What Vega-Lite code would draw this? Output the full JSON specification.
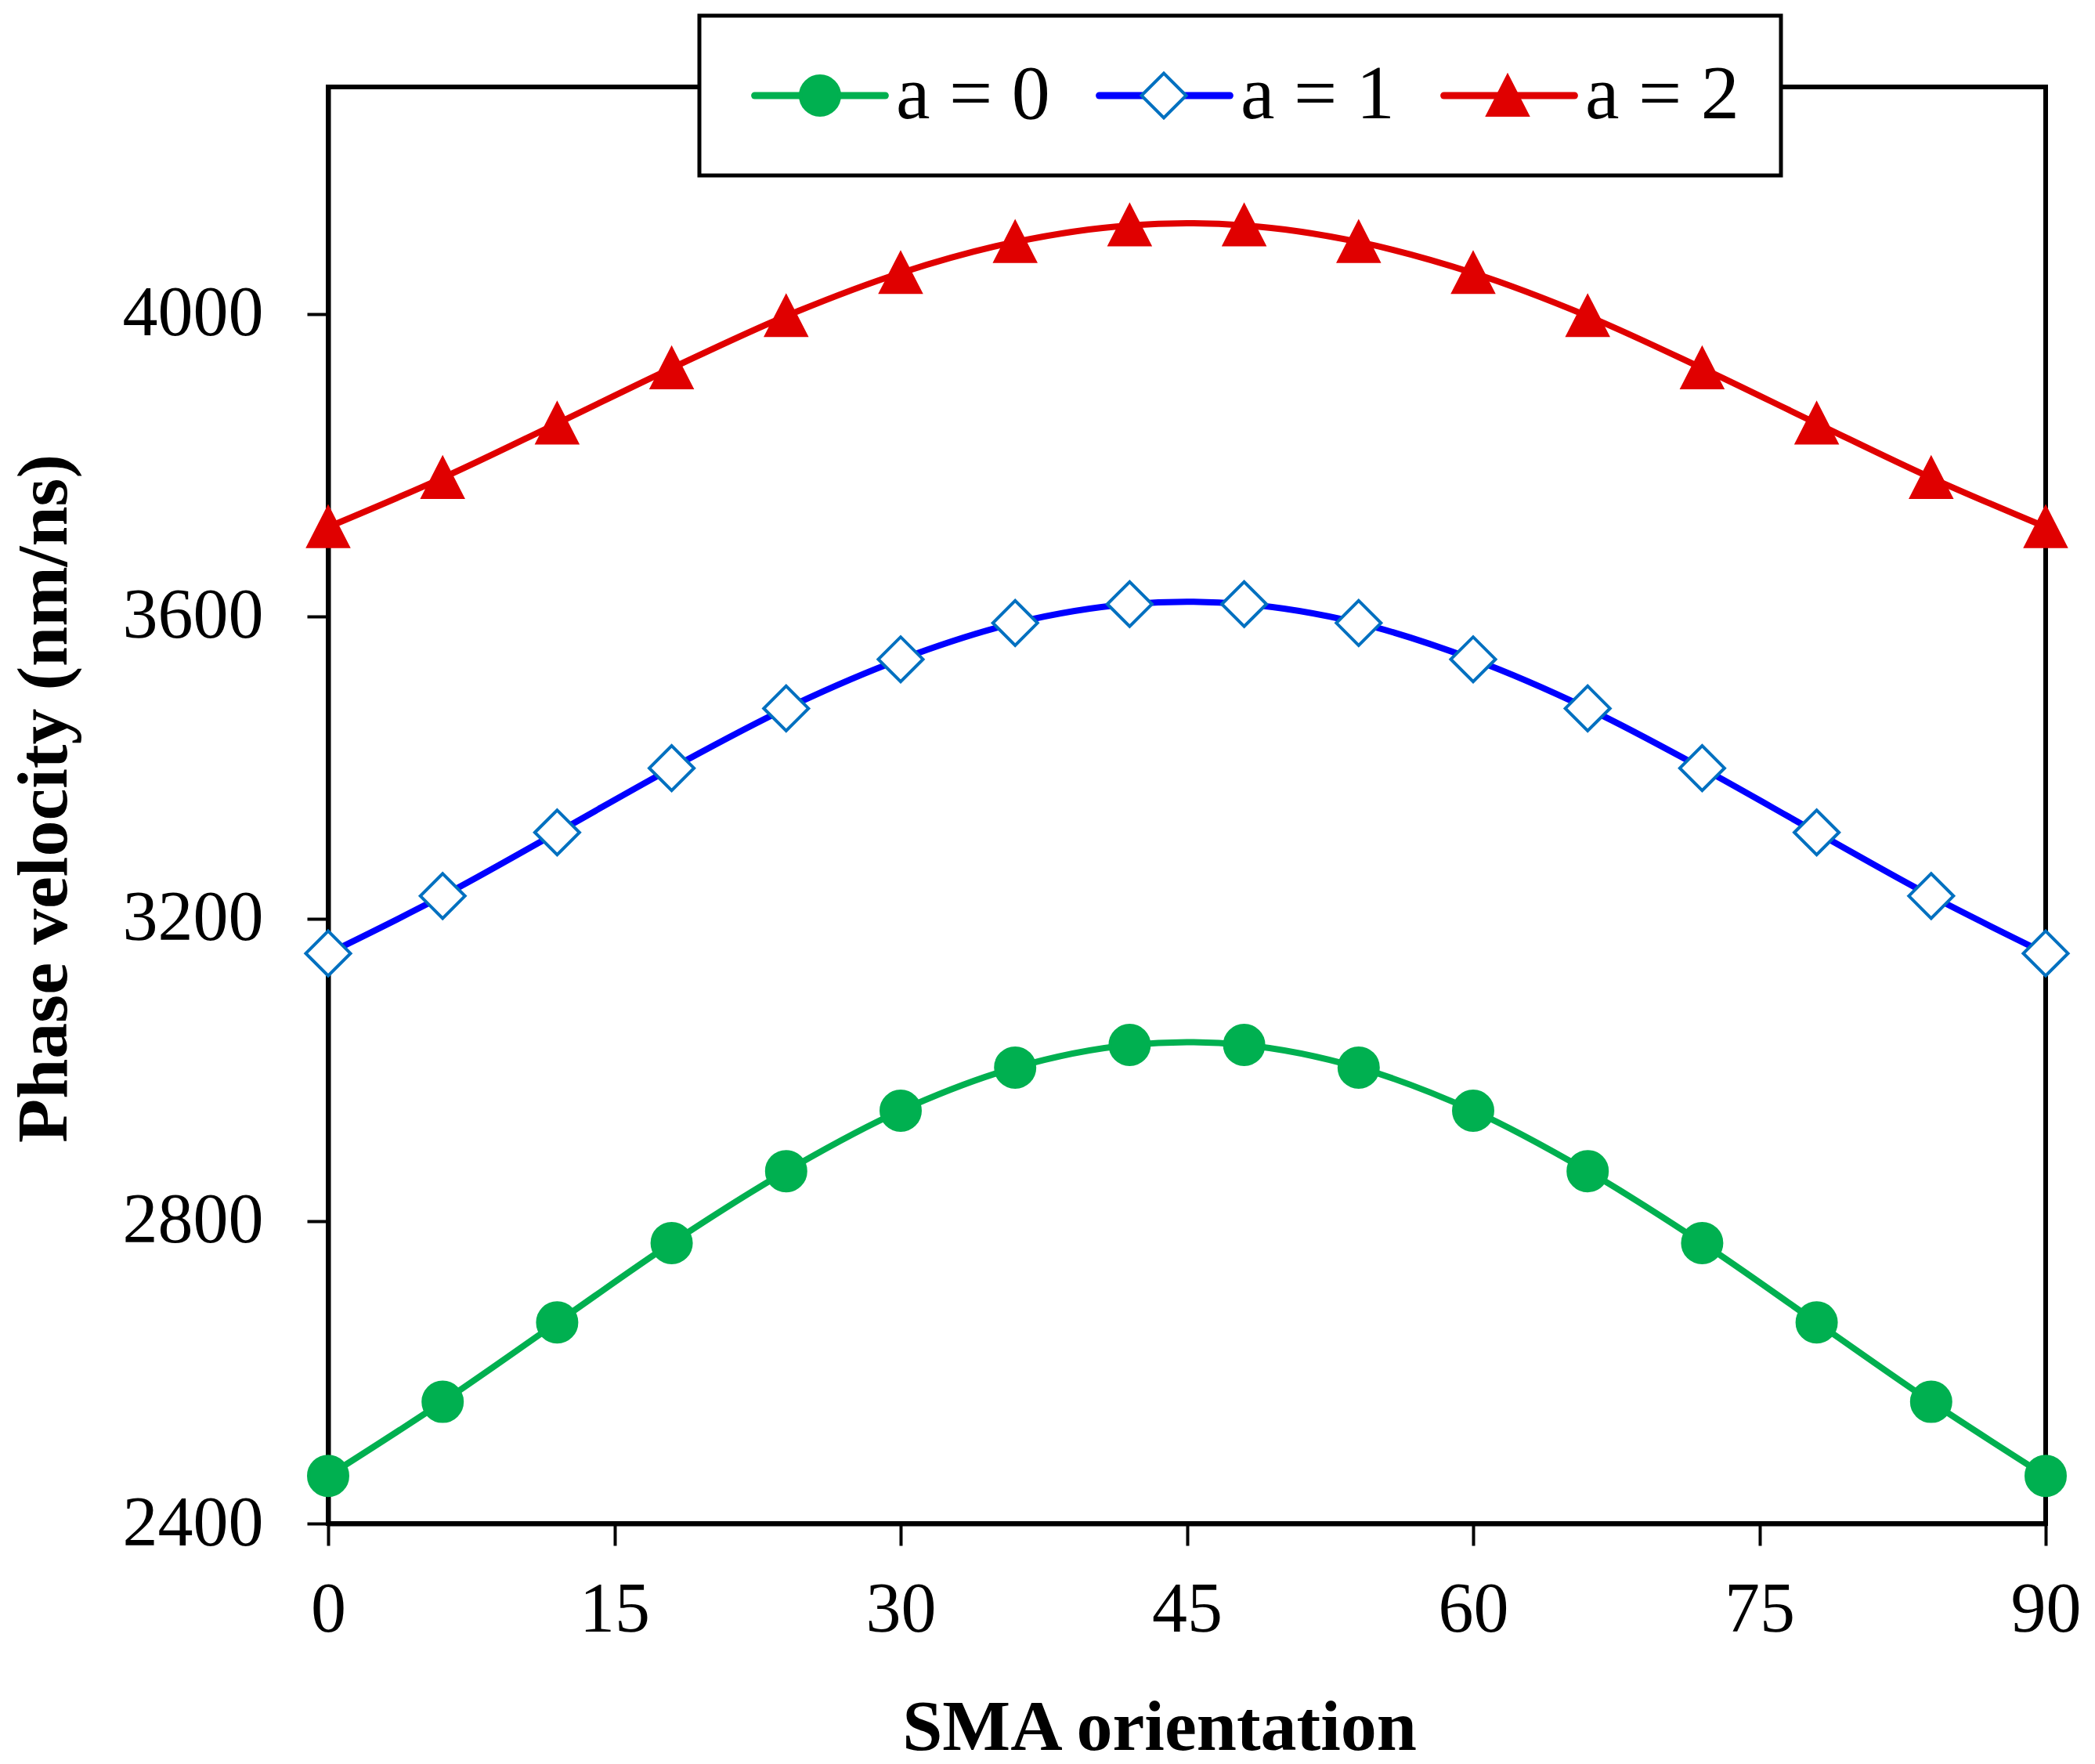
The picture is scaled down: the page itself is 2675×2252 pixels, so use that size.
{
  "$schema": "https://vega.github.io/schema/vega-lite/v6.json",
  "width": 2193,
  "height": 1834,
  "autosize": {"type": "none"},
  "padding": {"left": 419, "top": 111, "right": 63, "bottom": 307},
  "background": "white",
  "config": {
    "view": {"stroke": "black", "strokeWidth": 6},
    "axis": {
      "grid": false,
      "tickColor": "black",
      "tickWidth": 4,
      "domainColor": "black",
      "domainWidth": 6,
      "labelFont": "Liberation Serif",
      "labelFontSize": 90,
      "labelColor": "black",
      "labelLimit": 500,
      "labelFlush": false,
      "labelOverlap": false,
      "titleFont": "Liberation Serif",
      "titleFontSize": 92,
      "titleFontWeight": "bold",
      "titleColor": "black",
      "titleLimit": 2000
    }
  },
  "data": {
    "values": [
      {"orientation": 0, "velocity": 2463, "series": "a = 0"},
      {"orientation": 6, "velocity": 2561, "series": "a = 0"},
      {"orientation": 12, "velocity": 2666, "series": "a = 0"},
      {"orientation": 18, "velocity": 2771, "series": "a = 0"},
      {"orientation": 24, "velocity": 2866, "series": "a = 0"},
      {"orientation": 30, "velocity": 2946, "series": "a = 0"},
      {"orientation": 36, "velocity": 3003, "series": "a = 0"},
      {"orientation": 42, "velocity": 3033, "series": "a = 0"},
      {"orientation": 48, "velocity": 3033, "series": "a = 0"},
      {"orientation": 54, "velocity": 3003, "series": "a = 0"},
      {"orientation": 60, "velocity": 2946, "series": "a = 0"},
      {"orientation": 66, "velocity": 2866, "series": "a = 0"},
      {"orientation": 72, "velocity": 2771, "series": "a = 0"},
      {"orientation": 78, "velocity": 2666, "series": "a = 0"},
      {"orientation": 84, "velocity": 2561, "series": "a = 0"},
      {"orientation": 90, "velocity": 2463, "series": "a = 0"},
      {"orientation": 0, "velocity": 3154, "series": "a = 1"},
      {"orientation": 6, "velocity": 3230, "series": "a = 1"},
      {"orientation": 12, "velocity": 3314, "series": "a = 1"},
      {"orientation": 18, "velocity": 3399, "series": "a = 1"},
      {"orientation": 24, "velocity": 3478, "series": "a = 1"},
      {"orientation": 30, "velocity": 3543, "series": "a = 1"},
      {"orientation": 36, "velocity": 3591, "series": "a = 1"},
      {"orientation": 42, "velocity": 3616, "series": "a = 1"},
      {"orientation": 48, "velocity": 3616, "series": "a = 1"},
      {"orientation": 54, "velocity": 3591, "series": "a = 1"},
      {"orientation": 60, "velocity": 3543, "series": "a = 1"},
      {"orientation": 66, "velocity": 3478, "series": "a = 1"},
      {"orientation": 72, "velocity": 3399, "series": "a = 1"},
      {"orientation": 78, "velocity": 3314, "series": "a = 1"},
      {"orientation": 84, "velocity": 3230, "series": "a = 1"},
      {"orientation": 90, "velocity": 3154, "series": "a = 1"},
      {"orientation": 0, "velocity": 3718, "series": "a = 2"},
      {"orientation": 6, "velocity": 3783, "series": "a = 2"},
      {"orientation": 12, "velocity": 3855, "series": "a = 2"},
      {"orientation": 18, "velocity": 3928, "series": "a = 2"},
      {"orientation": 24, "velocity": 3997, "series": "a = 2"},
      {"orientation": 30, "velocity": 4054, "series": "a = 2"},
      {"orientation": 36, "velocity": 4095, "series": "a = 2"},
      {"orientation": 42, "velocity": 4117, "series": "a = 2"},
      {"orientation": 48, "velocity": 4117, "series": "a = 2"},
      {"orientation": 54, "velocity": 4095, "series": "a = 2"},
      {"orientation": 60, "velocity": 4054, "series": "a = 2"},
      {"orientation": 66, "velocity": 3997, "series": "a = 2"},
      {"orientation": 72, "velocity": 3928, "series": "a = 2"},
      {"orientation": 78, "velocity": 3855, "series": "a = 2"},
      {"orientation": 84, "velocity": 3783, "series": "a = 2"},
      {"orientation": 90, "velocity": 3718, "series": "a = 2"}
    ]
  },
  "encoding": {
    "x": {
      "field": "orientation",
      "type": "quantitative",
      "scale": {"domain": [0, 90], "nice": false, "zero": false},
      "axis": {
        "values": [0, 15, 30, 45, 60, 75, 90],
        "format": "d",
        "title": "SMA orientation",
        "tickSize": 28,
        "labelBaseline": "alphabetic",
        "labelPadding": 109,
        "titleBaseline": "alphabetic",
        "titleAlign": "center",
        "titleX": 1061,
        "titleY": 288
      }
    },
    "y": {
      "field": "velocity",
      "type": "quantitative",
      "scale": {"domain": [2400, 4300], "nice": false, "zero": false},
      "axis": {
        "values": [2400, 2800, 3200, 3600, 4000],
        "format": "d",
        "title": "Phase velocity (nm/ns)",
        "tickSize": 27,
        "labelPadding": 56,
        "labelBaseline": "middle",
        "titleAngle": -90,
        "titleBaseline": "alphabetic",
        "titleAlign": "center",
        "titleX": -335,
        "titleY": 908
      }
    }
  },
  "layer": [
    {
      "mark": {"type": "line", "interpolate": "catmull-rom", "strokeWidth": 8},
      "encoding": {
        "color": {
          "field": "series",
          "type": "nominal",
          "scale": {"domain": ["a = 0", "a = 1", "a = 2"], "range": ["#00B050", "#0000FF", "#E00000"]},
          "legend": {
            "orient": "none",
            "legendX": 474,
            "legendY": -91,
            "direction": "horizontal",
            "title": null,
            "symbolType": "M-2.78,0H2.78",
            "symbolSize": 3600,
            "symbolStrokeWidth": 9,
            "symbolOffset": 52,
            "labelOffset": 48,
            "columnPadding": 44,
            "padding": 53,
            "labelFont": "Liberation Serif",
            "labelFontSize": 98,
            "labelLimit": 600,
            "labelColor": "black",
            "fillColor": "white",
            "strokeColor": "black",
            "encode": {
              "legend": {"update": {"strokeWidth": {"value": 5}}},
              "symbols": {"update": {"strokeCap": {"value": "round"}}}
            }
          }
        }
      }
    },
    {
      "mark": {"type": "point", "filled": true, "size": 3600, "strokeWidth": 4, "opacity": 1},
      "encoding": {
        "fill": {
          "field": "series",
          "type": "nominal",
          "scale": {"range": ["#00B050", "#FFFFFF", "#E00000"]},
          "legend": {
            "orient": "none",
            "legendX": 474,
            "legendY": -91,
            "direction": "horizontal",
            "title": null,
            "symbolSize": 3600,
            "symbolStrokeWidth": 4,
            "symbolOffset": 52,
            "labelOffset": 48,
            "columnPadding": 44,
            "padding": 53,
            "labelFont": "Liberation Serif",
            "labelFontSize": 98,
            "labelLimit": 600,
            "labelOpacity": 0
          }
        },
        "stroke": {
          "field": "series",
          "type": "nominal",
          "scale": {"range": ["#00B050", "#0070C0", "#E00000"]},
          "legend": {
            "orient": "none",
            "legendX": 474,
            "legendY": -91,
            "direction": "horizontal",
            "title": null,
            "symbolSize": 3600,
            "symbolStrokeWidth": 4,
            "symbolOffset": 52,
            "labelOffset": 48,
            "columnPadding": 44,
            "padding": 53,
            "labelFont": "Liberation Serif",
            "labelFontSize": 98,
            "labelLimit": 600,
            "labelOpacity": 0
          }
        },
        "shape": {
          "field": "series",
          "type": "nominal",
          "scale": {
            "range": [
              "M-0.833,0A0.833,0.833 0 1,0 0.833,0A0.833,0.833 0 1,0 -0.833,0ZM-2.95,0ZM2.95,0Z",
              "M-0.95,0L0,-0.95L0.95,0L0,0.95ZM-2.95,0ZM2.95,0Z",
              "M0,-0.83L0.85,0.83L-0.85,0.83ZM-2.95,0ZM2.95,0Z"
            ]
          },
          "legend": {
            "orient": "none",
            "legendX": 474,
            "legendY": -91,
            "direction": "horizontal",
            "title": null,
            "symbolSize": 3600,
            "symbolStrokeWidth": 4,
            "symbolOffset": 52,
            "labelOffset": 48,
            "columnPadding": 44,
            "padding": 53,
            "labelFont": "Liberation Serif",
            "labelFontSize": 98,
            "labelLimit": 600,
            "labelOpacity": 0
          }
        }
      }
    }
  ]
}
